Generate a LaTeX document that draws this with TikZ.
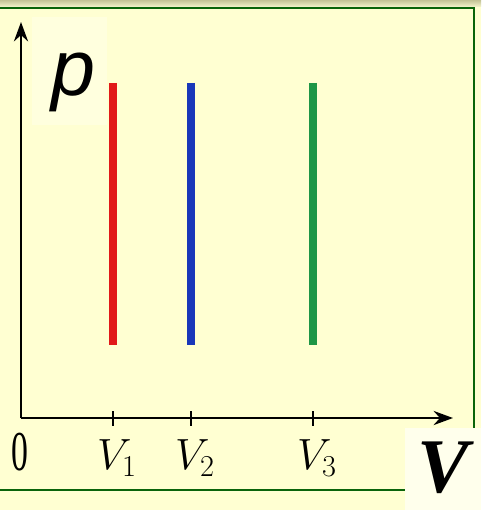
\documentclass[tikz,border=0pt]{standalone}
\usepackage{fontspec}
\setmainfont{Liberation Serif}
\newfontfamily\plabelfont{Liberation Sans}
\usetikzlibrary{arrows.meta}
\definecolor{bgyellow}{RGB}{255,255,210}
\definecolor{pboxyellow}{RGB}{255,255,222}
\definecolor{vboxyellow}{RGB}{255,255,236}
\definecolor{framegreen}{RGB}{10,100,10}
\definecolor{isored}{RGB}{225,25,25}
\definecolor{isoblue}{RGB}{25,55,185}
\definecolor{isogreen}{RGB}{30,150,70}
\tikzset{
  axis/.style={line width=1.7pt,-{Stealth[length=11pt,width=8pt]}},
  isoline/.style={line width=4pt},
  tick/.style={line width=1.1pt},
  ticklabel/.style={font=\fontsize{25}{25}\selectfont}
}
\begin{document}
\begin{tikzpicture}[x=0.02cm,y=-0.02cm]
  \useasboundingbox (0,0) rectangle (481,510);
  \fill[bgyellow] (0,0) rectangle (481,510);
  \shade[top color={rgb,255:red,195;green,195;blue,150},bottom color={rgb,255:red,245;green,245;blue,205}] (0,0) rectangle (481,7);
  % frame
  \draw[framegreen,line width=1.4pt] (0,8) -- (474,8) -- (474,428);
  \draw[framegreen,line width=1.4pt] (0,490) -- (405,490);
  % label boxes
  \fill[pboxyellow] (32,17) rectangle (107,125);
  \fill[vboxyellow] (405,428) rectangle (481,510);
  % axes
  \coordinate (O) at (21,418);
  \coordinate (ytip) at (21,22);
  \coordinate (xtip) at (453,418);
  \draw[axis] (O) -- (ytip);
  \draw[axis] (O) -- (xtip);
  \node[anchor=base] (plabel) at (73,95) {\fontsize{45}{45}\selectfont\plabelfont\itshape p};
  \node[anchor=base,inner sep=0pt] (Vlabel) at (443,492) {\fontsize{44}{44}\selectfont\bfseries\itshape V};
  % isochores
  \draw[isoline,isored] (113,83) -- (113,345);
  \draw[isoline,isoblue] (191,83) -- (191,345);
  \draw[isoline,isogreen] (313,83) -- (313,345);
  % ticks
  \draw[tick] (113,411) -- (113,426);
  \draw[tick] (191,411) -- (191,426);
  \draw[tick] (313,411) -- (313,426);
  \node[ticklabel,xscale=0.6] (zero) at (20,452) {\fontsize{32}{32}\selectfont 0};
  \node[ticklabel] (v1) at (117,458) {$V_1$};
  \node[ticklabel] (v2) at (195,458) {$V_2$};
  \node[ticklabel] (v3) at (317,458) {$V_3$};
\end{tikzpicture}
\end{document}
